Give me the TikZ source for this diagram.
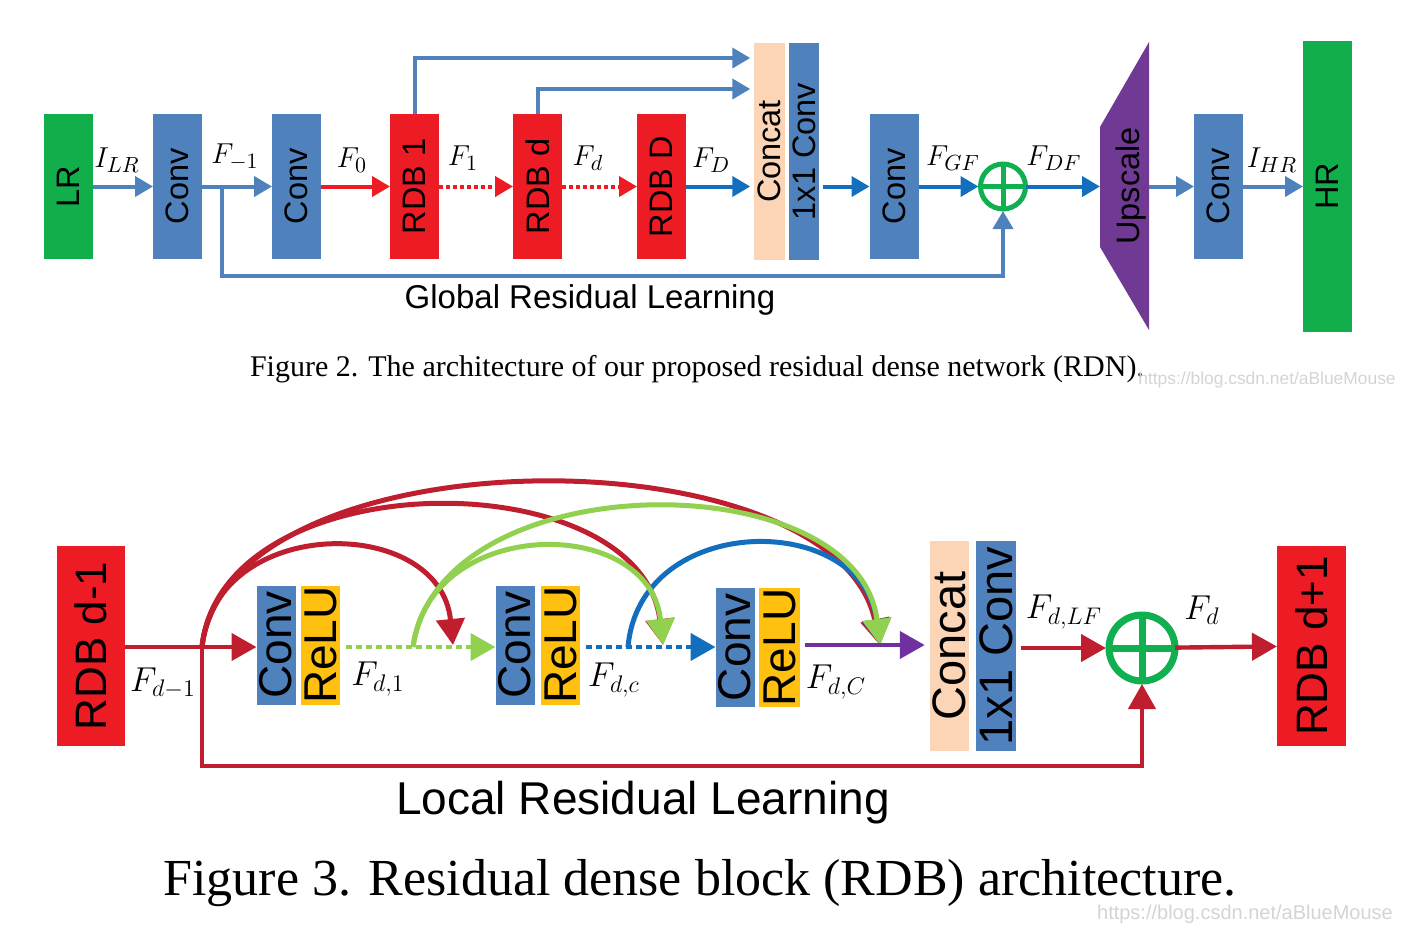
\documentclass[tikz,border=0pt]{standalone}
\usepackage{fontspec}
\setmainfont{Liberation Sans}
\newfontfamily\capfont{Liberation Serif}
\usepackage{graphicx}
\usetikzlibrary{arrows.meta}
\definecolor{boxgreen}{RGB}{18,174,76}
\definecolor{sumgreen}{RGB}{16,176,80}
\definecolor{boxblue}{RGB}{79,129,189}
\definecolor{boxred}{RGB}{237,28,36}
\definecolor{peach}{RGB}{251,213,181}
\definecolor{upviolet}{RGB}{112,58,148}
\definecolor{lineblue}{RGB}{20,110,190}
\definecolor{darkred}{RGB}{190,30,45}
\definecolor{limegreen}{RGB}{146,208,80}
\definecolor{reluyellow}{RGB}{255,192,16}
\definecolor{arrowviolet}{RGB}{112,48,160}

\begin{document}
\begin{tikzpicture}[x=0.5pt, y=-0.5pt,
    blk/.style={rectangle, inner sep=0pt, outer sep=0pt, fill=#1},
    topblk/.style={blk=#1, minimum width=24.5pt, minimum height=72.5pt, font=\fontsize{16.25}{18}\selectfont},
    tbar/.style={blk=#1, minimum width=15.25pt, minimum height=108.5pt, font=\fontsize{16.25}{18}\selectfont},
    botblk/.style={blk=#1, minimum width=19.5pt, minimum height=59.5pt, font=\fontsize{23}{25}\selectfont},
    bbar/.style={blk=#1, minimum width=19.75pt, minimum height=105pt, font=\fontsize{23.5}{25}\selectfont},
    sumring/.style={circle, draw=sumgreen, inner sep=0pt, outer sep=0pt},
    tarr/.style={line width=2pt, -{Triangle[length=9pt, width=10pt]}},
    barr/.style={line width=2.2pt, -{Triangle[length=12.5pt, width=13.5pt]}},
    arc/.style={line width=2.5pt, -{Triangle[length=13pt, width=14pt]}},
    tlab/.style={font=\fontsize{15}{17}\selectfont},
    blab/.style={font=\fontsize{17}{19}\selectfont},
    dots/.style={dash pattern=on 2pt off 1.5pt},
    bdots/.style={dash pattern=on 3pt off 2pt},
    wmark/.style={text=black!17, inner sep=0pt}
]
    \useasboundingbox (0,0) rectangle (1409,928);

    % ---------------- Figure 2: RDN ----------------
    % Input and shallow features
    \node[topblk=boxgreen] (lr) at (68.5,186.5) {\rotatebox{90}{LR}};
    \node[topblk=boxblue] (sfea) at (177.5,186.5) {\rotatebox{90}{Conv}};
    \node[topblk=boxblue] (sfeb) at (296.5,186.5) {\rotatebox{90}{Conv}};

    % Residual dense blocks
    \node[topblk=boxred] (rdbone) at (414.5,186.5) {\rotatebox{90}{RDB 1}};
    \node[topblk=boxred] (rdbd) at (537.5,186.5) {\rotatebox{90}{RDB d}};
    \node[topblk=boxred] (rdblast) at (661.5,186.5) {\rotatebox{90}{RDB D}};

    % Global feature fusion
    \node[tbar=peach] (gconcat) at (769.5,151.5) {\rotatebox{90}{Concat}};
    \node[tbar=boxblue] (gfuse) at (804,151.5) {\rotatebox{90}{1x1 Conv}};
    \node[topblk=boxblue] (gconv) at (894,186.5) {\rotatebox{90}{Conv}};
    \node[sumring, line width=2.5pt, minimum size=22.5pt] (gsum) at (1003,186.5) {};
    \draw[sumgreen, line width=2.5pt] (gsum.north) -- (gsum.south) (gsum.west) -- (gsum.east);

    % Upsampling and output
    \fill[upviolet] (1100,127) -- (1149,42) -- (1149,330) -- (1100,247) -- cycle;
    \node[inner sep=0pt, outer sep=0pt, minimum width=24.5pt, minimum height=60pt] (ups) at (1124.5,186.5) {};
    \node[inner sep=0pt, font=\fontsize{16.25}{18}\selectfont] (upstext) at (1131,186) {\rotatebox{90}{Upscale}};
    \node[topblk=boxblue] (rconv) at (1218.5,186.5) {\rotatebox{90}{Conv}};
    \node[blk=boxgreen, minimum width=24.5pt, minimum height=145.5pt, font=\fontsize{16.25}{18}\selectfont] (hr) at (1327.5,186.5) {\rotatebox{90}{HR}};

    % Connections
    \coordinate (hopa) at (0,58);
    \coordinate (hopd) at (0,89);
    \draw[tarr, boxblue] (lr) -- (sfea);
    \draw[tarr, boxblue] (sfea) -- (sfeb);
    \draw[tarr, boxred] (sfeb) -- (rdbone);
    \draw[tarr, boxred, dots] (rdbone) -- (rdbd);
    \draw[tarr, boxred, dots] (rdbd) -- (rdblast);
    \draw[tarr, lineblue, shorten >=2pt] (rdblast.east) -- (rdblast.east -| gconcat.west);
    \draw[tarr, boxblue, shorten >=2pt] (rdbone.north) |- (gconcat.west |- hopa);
    \draw[tarr, boxblue, shorten >=2pt] (rdbd.north) |- (gconcat.west |- hopd);
    \draw[tarr, lineblue, shorten <=2pt] (gfuse.east |- gconv.west) -- (gconv);
    \draw[tarr, lineblue, shorten >=1pt] (gconv) -- (gsum);
    \draw[tarr, lineblue] (gsum) -- (ups);
    \draw[tarr, boxblue] (ups) -- (rconv);
    \draw[tarr, boxblue] (rconv) -- (hr);

    % Global residual learning
    \coordinate (gtap) at (222,186.5);
    \coordinate (gbend) at (222,276);
    \draw[tarr, boxblue, shorten >=1pt] (gtap) -- (gbend) -| (gsum.south);

    % Feature labels
    \node[tlab] (ilr) at (117,160) {$I_{LR}$};
    \node[tlab] (fmone) at (235,157) {$F_{-1}$};
    \node[tlab] (fzero) at (352,160) {$F_0$};
    \node[tlab] (fone) at (463,158) {$F_1$};
    \node[tlab] (fd) at (588,158) {$F_d$};
    \node[tlab] (fbigd) at (711,160) {$F_D$};
    \node[tlab] (fgf) at (953,158) {$F_{GF}$};
    \node[tlab] (fdf) at (1054,158) {$F_{DF}$};
    \node[tlab] (ihr) at (1272,160) {$I_{HR}$};

    \node[font=\fontsize{16.5}{18}\selectfont] (glabel) at (590,300) {Global Residual Learning};
    \node[inner sep=0pt, font=\capfont\fontsize{15}{17}\selectfont] (capa) at (697,369) {Figure 2. The architecture of our proposed residual dense network (RDN).};
    \node[wmark, font=\fontsize{8.7}{10}\selectfont] (wma) at (1267,380) {https://blog.csdn.net/aBlueMouse};

    % ---------------- Figure 3: RDB ----------------
    \node[blk=boxred, minimum width=34pt, minimum height=100pt, font=\fontsize{22}{24}\selectfont] (rdbprev) at (91,646) {\rotatebox{90}{RDB d-1}};
    \node[botblk=boxblue] (conva) at (276,645) {\rotatebox{90}{Conv}};
    \node[botblk=reluyellow] (relua) at (320.5,645) {\rotatebox{90}{ReLU}};
    \node[botblk=boxblue] (convb) at (515,645) {\rotatebox{90}{Conv}};
    \node[botblk=reluyellow] (relub) at (560.5,645) {\rotatebox{90}{ReLU}};
    \node[botblk=boxblue] (convc) at (735,647.5) {\rotatebox{90}{Conv}};
    \node[botblk=reluyellow, minimum width=20.5pt] (reluc) at (779.5,647.5) {\rotatebox{90}{ReLU}};

    % Local feature fusion
    \node[bbar=peach] (lconcat) at (949.5,646) {\rotatebox{90}{Concat}};
    \node[bbar=boxblue] (lfuse) at (996,646) {\rotatebox{90}{1x1 Conv}};
    \node[sumring, line width=3.5pt, minimum size=33pt] (lsum) at (1142,648) {};
    \draw[sumgreen, line width=3.5pt] (lsum.north) -- (lsum.south) (lsum.west) -- (lsum.east);
    \node[blk=boxred, minimum width=34.5pt, minimum height=100pt, font=\fontsize{22}{24}\selectfont] (rdbnext) at (1311.5,646) {\rotatebox{90}{RDB d+1}};

    % Dense connections
    \coordinate (lsplit) at (202,647);
    \coordinate (gsplit) at (413,647);
    \coordinate (bsplit) at (628,647);
    \coordinate (tipa) at (453,645);
    \coordinate (tipb) at (663,645);
    \coordinate (tipc) at (880,645);
    \draw[arc, darkred] (lsplit) .. controls (215,514) and (440,514) .. (tipa);
    \draw[arc, darkred] (lsplit) .. controls (222,460) and (640,460) .. (tipb);
    \draw[arc, darkred] (lsplit) .. controls (228,430) and (835,430) .. (tipc);
    \draw[arc, lineblue] (bsplit) .. controls (640,511) and (862,511) .. (tipc);
    \draw[arc, limegreen] (gsplit) .. controls (430,515) and (650,515) .. (tipb);
    \draw[arc, limegreen] (gsplit) .. controls (440,462) and (858,462) .. (tipc);

    % Connections
    \draw[barr, darkred] (rdbprev.east |- lsplit) -- (lsplit -| conva.west);
    \draw[barr, limegreen, bdots, shorten <=3pt] (relua.east |- gsplit) -- (gsplit -| convb.west);
    \draw[barr, lineblue, bdots, shorten <=3pt] (relub.east |- bsplit) -- (bsplit -| convc.west);
    \draw[barr, arrowviolet, shorten <=2.5pt, shorten >=2.5pt] (reluc.east |- tipc) -- (tipc -| lconcat.west);
    \draw[barr, darkred, shorten <=2.5pt, shorten >=1.5pt] (lfuse.east |- lsum) -- (lsum);
    \draw[barr, darkred] (lsum) -- (rdbnext);

    % Local residual learning
    \coordinate (lbend) at (202,766);
    \draw[barr, darkred, shorten >=1.5pt] (lsplit) -- (lbend) -| (lsum.south);

    % Feature labels
    \node[blab] (fprev) at (163,683) {$F_{d-1}$};
    \node[blab] (fdone) at (378,679) {$F_{d,1}$};
    \node[blab] (fdc) at (614,680) {$F_{d,c}$};
    \node[blab] (fdbigc) at (836,682) {$F_{d,C}$};
    \node[blab] (fdlf) at (1064,612) {$F_{d,LF}$};
    \node[blab] (fdout) at (1202,610) {$F_d$};

    \node[font=\fontsize{23}{25}\selectfont] (llabel) at (643,803) {Local Residual Learning};
    \node[inner sep=0pt, font=\capfont\fontsize{26}{28}\selectfont] (capb) at (700,883) {Figure 3. Residual dense block (RDB) architecture.};
    \node[wmark, font=\fontsize{10}{12}\selectfont] (wmb) at (1245,914) {https://blog.csdn.net/aBlueMouse};
\end{tikzpicture}
\end{document}
